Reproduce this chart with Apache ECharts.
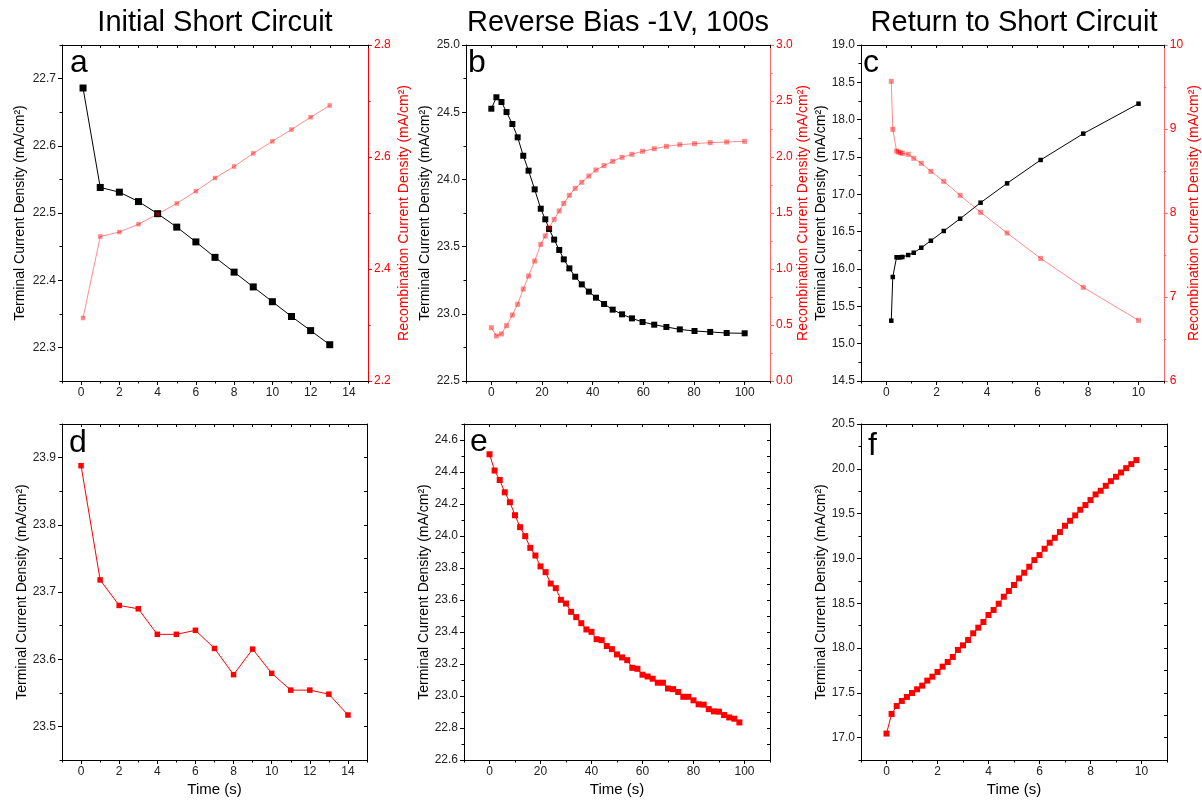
<!DOCTYPE html>
<html>
<head>
<meta charset="utf-8">
<script src="https://cdn.jsdelivr.net/npm/echarts@6/dist/echarts.min.js"></script>
<style>
  html, body { margin: 0; padding: 0; background: #fff; }
  #chart { width: 1202px; height: 802px; }
</style>
</head>
<body>
<div id="chart"></div>
<script>
// ---- data ----
// a: initial short circuit
var aTime = [0.1, 1, 2, 3, 4, 5, 6, 7, 8, 9, 10, 11, 12, 13];
var aTerminal = [22.686, 22.538, 22.531, 22.517, 22.499, 22.479, 22.457, 22.434, 22.412, 22.390, 22.368, 22.346, 22.325, 22.304];
var aRecomb = [2.3125, 2.458, 2.466, 2.480, 2.498, 2.517, 2.539, 2.5625, 2.583, 2.6065, 2.628, 2.649, 2.671, 2.692];

// b: reverse bias -1V, 100s
var bTime = [0, 2, 4, 6, 8.3, 10.4, 12.6, 14.7, 17.1, 19.5, 21.3, 22.8, 24.8, 26.8, 28.6, 30.8, 33.1, 35.7, 38.5, 41.3, 44.5, 47.9, 51.6, 55.5, 59.7, 64.3, 69.1, 74.4, 80.2, 86.4, 92.9, 100];
var bTerminal = [24.526, 24.611, 24.576, 24.501, 24.412, 24.313, 24.176, 24.065, 23.926, 23.782, 23.703, 23.631, 23.552, 23.475, 23.405, 23.338, 23.276, 23.219, 23.165, 23.120, 23.073, 23.031, 22.996, 22.966, 22.939, 22.919, 22.902, 22.884, 22.872, 22.865, 22.857, 22.855];
var bRecomb = [0.476, 0.402, 0.420, 0.494, 0.589, 0.685, 0.821, 0.9375, 1.071, 1.22, 1.295, 1.369, 1.443, 1.518, 1.586, 1.658, 1.720, 1.774, 1.830, 1.884, 1.923, 1.961, 1.997, 2.024, 2.051, 2.074, 2.095, 2.110, 2.119, 2.128, 2.134, 2.140];

// c: return to short circuit
var cTime = [0.2, 0.26, 0.41, 0.48, 0.56, 0.64, 0.87, 1.09, 1.39, 1.77, 2.28, 2.93, 3.74, 4.79, 6.12, 7.81, 10.0];
var cTerminal = [15.308, 15.893, 16.157, 16.157, 16.157, 16.161, 16.187, 16.218, 16.285, 16.379, 16.509, 16.674, 16.888, 17.147, 17.460, 17.813, 18.214];
var cRecomb = [9.568, 8.996, 8.738, 8.726, 8.718, 8.711, 8.699, 8.651, 8.592, 8.496, 8.377, 8.210, 8.008, 7.762, 7.460, 7.115, 6.722];

// d, e, f: terminal current only
var dTime = [0, 1, 2, 3, 4, 5, 6, 7, 8, 9, 10, 11, 12, 13, 14];
var dTerminal = [23.888, 23.718, 23.680, 23.675, 23.637, 23.637, 23.643, 23.616, 23.577, 23.615, 23.579, 23.554, 23.554, 23.548, 23.517];

var eTime = [0, 2, 4, 6, 8, 10, 12, 14, 16, 18, 20, 22, 24, 26, 28, 30, 32, 34, 36, 38, 40, 42, 44, 46, 48, 50, 52, 54, 56, 58, 60, 62, 64, 66, 68, 70, 72, 74, 76, 78, 80, 82, 84, 86, 88, 90, 92, 94, 96, 98];
var eTerminal = [24.511, 24.409, 24.350, 24.273, 24.211, 24.130, 24.055, 23.999, 23.926, 23.878, 23.810, 23.774, 23.703, 23.674, 23.601, 23.578, 23.526, 23.493, 23.455, 23.416, 23.401, 23.355, 23.349, 23.312, 23.293, 23.260, 23.241, 23.224, 23.176, 23.170, 23.133, 23.122, 23.108, 23.083, 23.083, 23.047, 23.043, 23.025, 22.995, 22.995, 22.973, 22.948, 22.946, 22.918, 22.904, 22.902, 22.881, 22.866, 22.858, 22.835];

var fTime = [0, 0.2, 0.4, 0.6, 0.8, 1.0, 1.2, 1.4, 1.6, 1.8, 2.0, 2.2, 2.4, 2.6, 2.8, 3.0, 3.2, 3.4, 3.6, 3.8, 4.0, 4.2, 4.4, 4.6, 4.8, 5.0, 5.2, 5.4, 5.6, 5.8, 6.0, 6.2, 6.4, 6.6, 6.8, 7.0, 7.2, 7.4, 7.6, 7.8, 8.0, 8.2, 8.4, 8.6, 8.8, 9.0, 9.2, 9.4, 9.6, 9.8];
var fTerminal = [17.045, 17.264, 17.353, 17.409, 17.454, 17.498, 17.539, 17.580, 17.636, 17.680, 17.732, 17.792, 17.844, 17.900, 17.978, 18.030, 18.089, 18.164, 18.227, 18.290, 18.368, 18.424, 18.494, 18.572, 18.636, 18.703, 18.777, 18.840, 18.907, 18.981, 19.037, 19.108, 19.175, 19.230, 19.294, 19.364, 19.420, 19.480, 19.543, 19.595, 19.651, 19.714, 19.755, 19.810, 19.862, 19.911, 19.959, 20.007, 20.052, 20.097];

// ---- tick values ----
var xMajor14 = [0, 2, 4, 6, 8, 10, 12, 14];
var xMinor14 = [-1, 1, 3, 5, 7, 9, 11, 13, 15];
var xMajor100 = [0, 20, 40, 60, 80, 100];
var xMinor100 = [-10, 10, 30, 50, 70, 90, 110];
var xMajor10 = [0, 2, 4, 6, 8, 10];
var xMinor10 = [-1, 1, 3, 5, 7, 9, 11];

var aYMajor = [22.3, 22.4, 22.5, 22.6, 22.7];
var aYMinor = [22.25, 22.35, 22.45, 22.55, 22.65, 22.75];
var aRMajor = [2.2, 2.4, 2.6, 2.8];
var aRMinor = [2.3, 2.5, 2.7];
var bYMajor = [22.5, 23.0, 23.5, 24.0, 24.5, 25.0];
var bYMinor = [22.75, 23.25, 23.75, 24.25, 24.75];
var bRMajor = [0, 0.5, 1.0, 1.5, 2.0, 2.5, 3.0];
var bRMinor = [0.25, 0.75, 1.25, 1.75, 2.25, 2.75];
var cYMajor = [14.5, 15.0, 15.5, 16.0, 16.5, 17.0, 17.5, 18.0, 18.5, 19.0];
var cYMinor = [14.75, 15.25, 15.75, 16.25, 16.75, 17.25, 17.75, 18.25, 18.75];
var cRMajor = [6, 7, 8, 9, 10];
var cRMinor = [6.5, 7.5, 8.5, 9.5];
var dYMajor = [23.5, 23.6, 23.7, 23.8, 23.9];
var dYMinor = [23.45, 23.55, 23.65, 23.75, 23.85, 23.95];
var eYMajor = [22.6, 22.8, 23.0, 23.2, 23.4, 23.6, 23.8, 24.0, 24.2, 24.4, 24.6];
var eYMinor = [22.7, 22.9, 23.1, 23.3, 23.5, 23.7, 23.9, 24.1, 24.3, 24.5, 24.7];
var fYMajor = [17.0, 17.5, 18.0, 18.5, 19.0, 19.5, 20.0, 20.5];
var fYMinor = [16.75, 17.25, 17.75, 18.25, 18.75, 19.25, 19.75, 20.25];

var FONT = 'Liberation Sans, Arial, sans-serif';
var termName = 'Terminal Current Density (mA/cm\u00B2)';
var recName = 'Recombination Current Density (mA/cm\u00B2)';
var PINK = 'rgba(255,0,0,0.45)';

var grids = [], xAxes = [], yAxes = [], series = [];

function zip(xs, ys) {
    return xs.map(function (x, i) { return [x, ys[i]]; });
}

function axis(gi, pos, min, max, o) {
    var col = o.color || '#000';
    var a = {
        type: 'value', gridIndex: gi, position: pos, min: min, max: max,
        splitLine: { show: false },
        axisLine: { show: !!o.line, onZero: false, lineStyle: { color: o.lineColor || col, width: 1 } },
        axisTick: o.ticks ? { show: true, inside: !!o.inside, length: o.len || 4, customValues: o.ticks,
            lineStyle: { color: o.lineColor || col, width: 1 } } : { show: false },
        axisLabel: o.labels ? {
            show: true, customValues: o.labels, color: o.labelColor || '#222', fontSize: 12, margin: 6,
            formatter: function (v) { return o.dec ? Number(v).toFixed(o.dec) : String(Math.round(v)); }
        } : { show: false }
    };
    if (o.name) {
        a.name = o.name;
        a.nameLocation = 'middle';
        a.nameGap = o.nameGap;
        a.nameRotate = o.nameRotate;
        a.nameTextStyle = { color: o.nameColor || '#000', fontSize: o.nameSize || 14, fontFamily: FONT };
    }
    return a;
}

function panel(p) {
    var gi = grids.length;
    grids.push({ left: p.left, top: p.top, width: p.width, height: p.height, containLabel: false });
    var xi = xAxes.length;
    xAxes.push(axis(gi, 'bottom', p.x[0], p.x[1], { line: true, ticks: p.xMajor, labels: p.xMajor, len: 4,
        name: p.timeLabel ? 'Time (s)' : null, nameGap: 22, nameRotate: 0, nameSize: 15 }));
    xAxes.push(axis(gi, 'bottom', p.x[0], p.x[1], { ticks: p.xMinor, len: 2.5 }));
    xAxes.push(axis(gi, 'top', p.x[0], p.x[1], { line: true, ticks: p.xMajor.concat(p.xMinor), inside: true, len: 3 }));

    var yi = yAxes.length;
    yAxes.push(axis(gi, 'left', p.y[0], p.y[1], { line: true, ticks: p.yMajor, labels: p.yMajor, dec: p.yDec, len: 4,
        name: termName, nameGap: p.nameGap, nameRotate: 90 }));
    yAxes.push(axis(gi, 'left', p.y[0], p.y[1], { ticks: p.yMinor, len: 2.5 }));
    var ri = null;
    if (p.r) {
        ri = yAxes.length;
        yAxes.push(axis(gi, 'right', p.r[0], p.r[1], { line: true, ticks: p.rMajor, labels: p.rMajor, dec: p.rDec, len: 4,
            color: '#ff0000', lineColor: p.rLine, labelColor: '#ff0000',
            name: recName, nameGap: p.rGap, nameRotate: 90, nameColor: '#ff0000' }));
        yAxes.push(axis(gi, 'right', p.r[0], p.r[1], { ticks: p.rMinor, len: 2.5, color: p.rLine }));
    } else {
        yAxes.push(axis(gi, 'right', p.y[0], p.y[1], { line: true, ticks: p.yMajor.concat(p.yMinor), inside: true, len: 3 }));
    }

    series.push({
        type: 'line', xAxisIndex: xi, yAxisIndex: yi, data: zip(p.time, p.term),
        symbol: 'rect', symbolSize: p.termSize, showSymbol: true,
        lineStyle: { color: p.termColor, width: 1 }, itemStyle: { color: p.termColor }
    });
    if (p.r) {
        series.push({
            type: 'line', xAxisIndex: xi, yAxisIndex: ri, data: zip(p.time, p.rec),
            symbol: 'rect', symbolSize: p.recSize, showSymbol: true,
            lineStyle: { color: PINK, width: 1 }, itemStyle: { color: PINK }
        });
    }
}

panel({ left: 62, top: 45, width: 306, height: 336, x: [-1, 15], xMajor: xMajor14, xMinor: xMinor14,
    y: [22.25, 22.75], yMajor: aYMajor, yMinor: aYMinor, yDec: 1, nameGap: 35,
    r: [2.2, 2.8], rMajor: aRMajor, rMinor: aRMinor, rDec: 1, rGap: 29, rLine: '#ff0000',
    time: aTime, term: aTerminal, rec: aRecomb, termSize: 7, recSize: 4.5, termColor: '#000' });
panel({ left: 466, top: 45, width: 304, height: 336, x: [-10, 110], xMajor: xMajor100, xMinor: xMinor100,
    y: [22.5, 25], yMajor: bYMajor, yMinor: bYMinor, yDec: 1, nameGap: 34,
    r: [0, 3], rMajor: bRMajor, rMinor: bRMinor, rDec: 1, rGap: 23, rLine: '#ff6666',
    time: bTime, term: bTerminal, rec: bRecomb, termSize: 6, recSize: 5, termColor: '#000' });
panel({ left: 861, top: 45, width: 306, height: 336, x: [-1, 11], xMajor: xMajor10, xMinor: xMinor10,
    y: [14.5, 19], yMajor: cYMajor, yMinor: cYMinor, yDec: 1, nameGap: 29,
    r: [6, 10], rMajor: cRMajor, rMinor: cRMinor, rDec: 0, rGap: 17, rLine: '#ff6666',
    time: cTime, term: cTerminal, rec: cRecomb, termSize: 4.5, recSize: 5, termColor: '#000' });
panel({ left: 62, top: 424, width: 305, height: 336, x: [-1, 15], xMajor: xMajor14, xMinor: xMinor14,
    y: [23.45, 23.95], yMajor: dYMajor, yMinor: dYMinor, yDec: 1, nameGap: 32, timeLabel: true,
    time: dTime, term: dTerminal, termSize: 5.5, termColor: '#ff0000' });
panel({ left: 464, top: 424, width: 306, height: 336, x: [-10, 110], xMajor: xMajor100, xMinor: xMinor100,
    y: [22.6, 24.7], yMajor: eYMajor, yMinor: eYMinor, yDec: 1, nameGap: 31, timeLabel: true,
    time: eTime, term: eTerminal, termSize: 6, termColor: '#ff0000' });
panel({ left: 861, top: 424, width: 306, height: 336, x: [-1, 11], xMajor: xMajor10, xMinor: xMinor10,
    y: [16.75, 20.5], yMajor: fYMajor, yMinor: fYMinor, yDec: 1, nameGap: 32, timeLabel: true,
    time: fTime, term: fTerminal, termSize: 6, termColor: '#ff0000' });

function label(x, y, text, size, align) {
    return { type: 'text', x: x, y: y, silent: true,
        style: { text: text, font: size + 'px ' + FONT, fill: '#000', textAlign: align, textVerticalAlign: 'middle' } };
}

var graphics = [
    label(215, 23, 'Initial Short Circuit', 29, 'center'),
    label(618, 23, 'Reverse Bias -1V, 100s', 29, 'center'),
    label(1014, 23, 'Return to Short Circuit', 29, 'center'),
    label(70, 63, 'a', 32, 'left'),
    label(468, 63, 'b', 32, 'left'),
    label(863, 63, 'c', 32, 'left'),
    label(69, 443, 'd', 32, 'left'),
    label(470, 442, 'e', 32, 'left'),
    label(868, 446, 'f', 32, 'left')
];

var chart = echarts.init(document.getElementById('chart'));
chart.setOption({
    animation: false,
    backgroundColor: '#fff',
    textStyle: { fontFamily: FONT },
    grid: grids,
    xAxis: xAxes,
    yAxis: yAxes,
    series: series,
    graphic: graphics
});
</script>
</body>
</html>
